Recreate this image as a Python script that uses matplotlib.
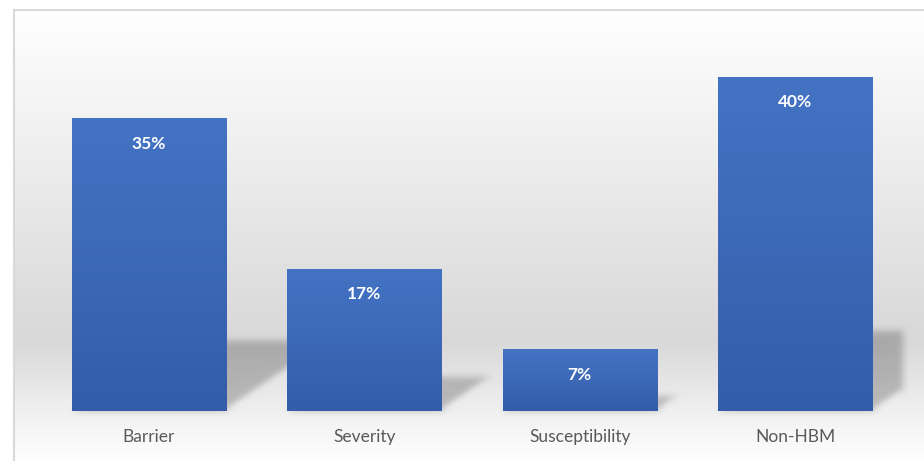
import numpy as np
import matplotlib.pyplot as plt
from matplotlib.patches import Polygon

categories = ['Barrier', 'Severity', 'Susceptibility', 'Non-HBM']
values = [35, 17, 7.4, 40]

plt.rcParams['font.family'] = ['Lato', 'DejaVu Sans']

W, H = 924, 461


def blur(im, dpi):
    # gaussian blur for the soft bar shadows
    sigma = 3.5 * dpi / 100
    pad = int(sigma * 3) + 1
    p = np.pad(im, ((pad, pad), (pad, pad), (0, 0)))
    x = np.arange(-pad, pad + 1)
    k = np.exp(-x**2 / (2 * sigma**2))
    k /= k.sum()
    p = np.apply_along_axis(lambda m: np.convolve(m, k, mode='same'), 0, p)
    p = np.apply_along_axis(lambda m: np.convolve(m, k, mode='same'), 1, p)
    return p, -pad, -pad


fig = plt.figure(figsize=(W / 100, H / 100), dpi=100)

# background: white wall fading to grey, then lighter floor
bg = fig.add_axes([0, 0, 1, 1], zorder=0)
rows = np.arange(10, H)
shade = np.interp(rows, [10, 340, 411, H], [255, 216, 240, 255]) / 255
grad = np.repeat(shade[:, None], 3, axis=1)[:, None, :]
bg.imshow(grad, extent=(13, W, H, 10), aspect='auto', interpolation='bilinear')
bg.plot([13.5, 13.5], [H, 10.5], color='#d9d9d9', lw=1.5)
bg.plot([13.5, W], [10.5, 10.5], color='#d9d9d9', lw=1.5)
bg.set_xlim(0, W)
bg.set_ylim(H, 0)
bg.axis('off')

ax = fig.add_axes([41 / W, 50 / H, 862 / W, 375.75 / H], zorder=1)
ax.patch.set_alpha(0)

bar_w = 0.715
top_c = np.array([68, 115, 196]) / 255
bot_c = np.array([51, 93, 169]) / 255
t = np.linspace(0, 1, 64)[:, None]
bar_grad = (bot_c * (1 - t) + top_c * t)[:, None, :]

for i, v in enumerate(values):
    xl, xr = i - bar_w / 2, i + bar_w / 2
    ax.imshow(bar_grad, extent=(xl, xr, 0, v), origin='lower', aspect='auto',
              zorder=3, interpolation='bilinear')
    dx = 0.0136 * v
    sh = 0.24 * v
    poly = Polygon([(xl, 0), (xr, 0), (xr + dx, sh), (xl + dx, sh)], closed=True,
                   fc='black', alpha=0.22, lw=0, zorder=2)
    poly.set_agg_filter(blur)
    ax.add_patch(poly)
    ax.annotate(f'{round(v)}%', xy=(i, v), xytext=(0, -18.3), textcoords='offset points',
                ha='center', va='center', color='white', fontweight='bold', fontsize=12.5,
                zorder=4)

ax.set_xlim(-0.5, 3.5)
ax.set_ylim(0, 45)
ax.set_xticks(range(len(categories)), categories)
ax.tick_params(axis='x', length=0, pad=13, labelcolor='#595959', labelsize=12.5)
ax.set_yticks([])
for s in ax.spines.values():
    s.set_visible(False)

fig.savefig('out.png', dpi=100)
